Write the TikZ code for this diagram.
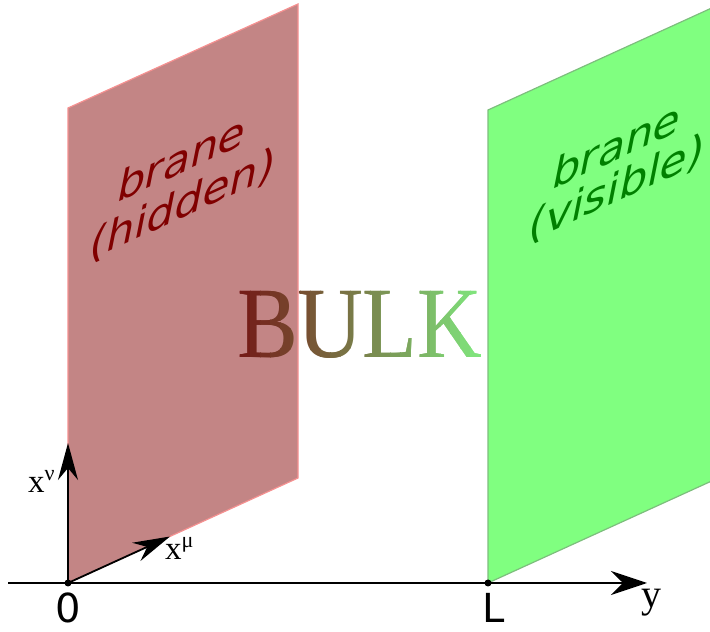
\documentclass[tikz,border=0pt]{standalone}
\usepackage{fontspec}
\setmainfont{Liberation Serif}
\newfontfamily\djv{DejaVu Sans}
\usetikzlibrary{arrows.meta}
\definecolor{hidfill}{RGB}{195,133,133}
\definecolor{hidedge}{RGB}{245,145,145}
\definecolor{visfill}{RGB}{128,255,128}
\definecolor{visedge}{RGB}{125,190,125}
\definecolor{hidtext}{RGB}{128,0,0}
\definecolor{vistext}{RGB}{0,128,0}
\definecolor{bulkl}{RGB}{115,20,20}
\definecolor{bulkr}{RGB}{128,235,128}
\tikzset{
  hidbrane/.style={fill=hidfill,draw=hidedge,line width=1.2pt,line join=miter},
  visbrane/.style={fill=visfill,draw=visedge,line width=1.2pt,line join=miter},
  branelabel/.style={anchor=base,inner sep=0pt,font=\djv\fontsize{44}{47}\selectfont,cm={1,0.456,0.2,1,(0,0)}},
  axis/.style={line width=1.8pt,-{Stealth[length=36pt,width=24pt,inset=12pt]}},
  smallaxis/.style={line width=1.8pt,-{Stealth[length=37pt,width=20pt,inset=12pt]}},
  serlabel/.style={inner sep=0pt,font=\fontsize{33}{33}\selectfont},
  sanslabel/.style={inner sep=0pt,font=\djv\fontsize{40}{40}\selectfont},
  bulkstyle/.style={inner sep=0pt,xscale=0.89,font=\fontsize{101}{101}\selectfont},
  dot/.style={circle,fill=black,inner sep=0pt,minimum size=7pt}
}
\begin{document}
\begin{tikzpicture}[x=1pt,y=1pt]
\useasboundingbox (0,0) rectangle (710,632);
\begin{scope}
\clip (0,0) rectangle (710,632);
\path[hidbrane] (68,49) -- (68,524) -- (298,628) -- (298,154) -- cycle;
\path[visbrane] (488,49) -- (488,522) -- (722,628.7) -- (722,155.7) -- cycle;
\end{scope}
\node[branelabel,text=hidtext] (hid1) at (179,458) {brane};
\node[branelabel,text=hidtext] (hid2) at (180,413) {(hidden)};
\node[branelabel,text=vistext] (vis1) at (614,471) {brane};
\node[branelabel,text=vistext] (vis2) at (614,429) {(visible)};
\foreach \i in {0,...,25}{
  \pgfmathsetmacro{\xl}{230+10*\i}
  \pgfmathsetmacro{\pc}{int(round(100*\i/25))}
  \begin{scope}
    \clip (\xl,250) rectangle (\xl+10.3,370);
    \node[bulkstyle,text=bulkr!\pc!bulkl] (bulka\i) at (359.6,307.5) {BULK};
    \node[bulkstyle,text=bulkr!\pc!bulkl] (bulkb\i) at (360.4,307.5) {BULK};
  \end{scope}
}
\coordinate (ystart) at (8,49);
\coordinate (yend) at (647,49);
\coordinate (nutip) at (68,189);
\coordinate (mutip) at (170,95.5);
\node[dot] (O) at (68,49) {};
\node[dot] (Lp) at (488,49) {};
\draw[axis] (ystart) -- (yend);
\draw[smallaxis] (O.center) -- (nutip);
\draw[smallaxis] (O.center) -- (mutip);
\node[serlabel,anchor=base west] (xnu) at (28,139) {x\raisebox{12pt}{\fontsize{22}{22}\selectfont ν}};
\node[serlabel,anchor=base west] (xmu) at (165,72) {x\raisebox{12pt}{\fontsize{22}{22}\selectfont μ}};
\node[sanslabel,anchor=base] (zero) at (68,9) {0};
\node[sanslabel,anchor=base] (ell) at (494,9) {L};
\node[inner sep=0pt,anchor=base,font=\fontsize{40}{40}\selectfont] (ylab) at (651,24) {y};
\end{tikzpicture}
\end{document}
